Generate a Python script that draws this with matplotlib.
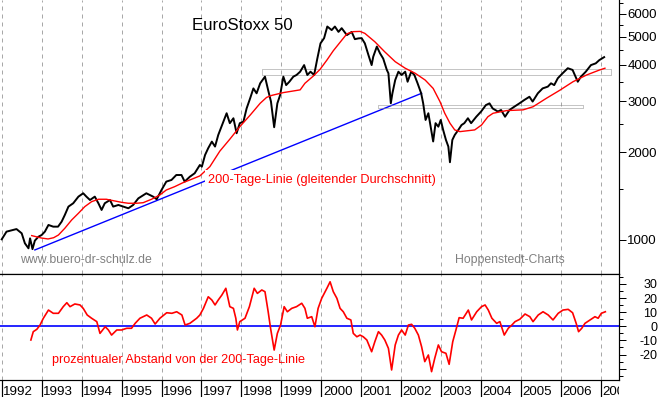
import matplotlib
matplotlib.use('Agg')
import matplotlib.pyplot as plt
import matplotlib.ticker as mticker
from matplotlib.patches import Rectangle

plt.rcParams['font.family'] = ['Liberation Sans', 'DejaVu Sans']

# ---------------- data (decimal years, index points) ----------------
price_t = [1992.00, 1992.12, 1992.37, 1992.50, 1992.58, 1992.67, 1992.71, 1992.77, 1992.83, 1992.92,
           1993.00, 1993.08, 1993.17, 1993.29, 1993.41, 1993.50, 1993.58, 1993.67, 1993.79, 1993.92,
           1994.04, 1994.12, 1994.21, 1994.33, 1994.42, 1994.50, 1994.58, 1994.71, 1994.79, 1994.92,
           1995.04, 1995.17, 1995.29, 1995.42, 1995.62, 1995.79, 1995.88, 1996.00, 1996.12, 1996.25,
           1996.37, 1996.50, 1996.58, 1996.71, 1996.83, 1996.96,
           1997.01, 1997.09, 1997.17, 1997.26, 1997.34, 1997.42, 1997.55, 1997.63, 1997.71, 1997.80,
           1997.88, 1997.96, 1998.05, 1998.13, 1998.22, 1998.30, 1998.38, 1998.47, 1998.59, 1998.67,
           1998.74, 1998.82, 1998.90, 1998.97, 1999.05, 1999.12, 1999.20, 1999.30, 1999.38, 1999.47,
           1999.57, 1999.65, 1999.73, 1999.82, 1999.90, 1999.98, 2000.07, 2000.15, 2000.26, 2000.34,
           2000.43, 2000.51, 2000.64, 2000.76, 2000.84, 2000.93, 2001.01, 2001.09, 2001.18, 2001.26,
           2001.30, 2001.39, 2001.47, 2001.55, 2001.64, 2001.68, 2001.74, 2001.78, 2001.85, 2001.93,
           2002.01, 2002.10, 2002.16, 2002.25, 2002.33, 2002.41, 2002.50, 2002.55, 2002.61, 2002.68,
           2002.75, 2002.80, 2002.86, 2002.93, 2002.99, 2003.05, 2003.12, 2003.18, 2003.22, 2003.28,
           2003.34, 2003.43, 2003.51,
           2003.58, 2003.67, 2003.75, 2003.88, 2004.00,
           2004.12, 2004.21, 2004.29, 2004.42, 2004.50, 2004.60, 2004.71, 2004.83, 2004.96, 2005.08,
           2005.21, 2005.29, 2005.42, 2005.54, 2005.67, 2005.75, 2005.83, 2005.92, 2006.04, 2006.17,
           2006.29, 2006.42, 2006.50, 2006.62, 2006.75, 2006.87, 2006.96, 2007.08]
price_v = [1005, 1068, 1090, 1054, 974, 936, 1013, 930, 995, 1026,
           1040, 1068, 1126, 1111, 1111, 1156, 1219, 1302, 1337, 1409,
           1447, 1409, 1372, 1409, 1337, 1268, 1337, 1372, 1302, 1319,
           1302, 1285, 1319, 1390, 1447, 1409, 1380, 1485, 1587, 1608,
           1672, 1672, 1587, 1650, 1695, 1810,
           1786, 1959, 2069, 2178, 2094, 2295, 2550, 2726, 2520, 2620,
           2327, 2520, 2550, 2831, 3072, 3318, 3192, 3455, 3642, 3270,
           2990, 2440, 2948, 3150, 3642, 3406, 3498, 3642, 3690, 3787,
           3991, 3690, 3787, 3690, 4200, 4740, 4940, 5415, 5265, 5415,
           5190, 5345, 5060, 5190, 4900, 4930, 4940, 4740, 4320, 3991,
           4265, 4620, 4380, 4200, 3841, 3740, 2950, 3192, 3545, 3787,
           3690, 3787, 3498, 3787, 3690, 3455, 3192, 2948, 2585, 2726,
           2389, 2180, 2520, 2451, 2585, 2389, 2207, 2094, 1850, 2207,
           2295, 2389, 2483,
           2520, 2620, 2520, 2652, 2763,
           2908, 2948, 2831, 2763, 2797, 2652, 2797, 2870, 2948, 3027,
           3106, 2990, 3192, 3318, 3365, 3455, 3406, 3596, 3740, 3893,
           3841, 3498, 3642, 3787, 3991, 4046, 4152, 4250]

ma_t = [1992.75, 1993.00, 1993.16, 1993.30, 1993.42, 1993.58, 1993.75, 1993.92, 1994.08, 1994.25,
        1994.42, 1994.62, 1994.79, 1995.00, 1995.17, 1995.37, 1995.54, 1995.75, 1995.96, 1996.12,
        1996.33, 1996.54, 1996.75, 1996.96, 1997.21, 1997.46, 1997.71, 1997.96, 1998.22, 1998.47,
        1998.63, 1998.76, 1999.05, 1999.47, 1999.59, 1999.80, 1999.97, 2000.14, 2000.30, 2000.47,
        2000.64, 2000.80, 2000.97, 2001.09, 2001.34, 2001.59, 2001.85, 2002.10, 2002.35, 2002.60,
        2002.80, 2002.97, 2003.09, 2003.22, 2003.34, 2003.47, 2003.84, 2004.01, 2004.17, 2004.30,
        2004.64, 2005.05, 2005.30, 2005.64, 2005.97, 2006.30, 2006.64, 2006.97, 2007.10]
ma_v = [1035, 1015, 1008, 1018, 1040, 1097, 1171, 1235, 1302, 1354,
        1380, 1380, 1365, 1347, 1337, 1337, 1343, 1380, 1428, 1485,
        1525, 1574, 1616, 1660, 1786, 2020, 2220, 2451, 2687, 2950,
        3090, 3140, 3210, 3280, 3455, 3660, 3860, 4152, 4470, 4780,
        5110, 5200, 5210, 5130, 4800, 4430, 4100, 3893, 3740, 3545,
        3318, 2990, 2726, 2520, 2389, 2357, 2389, 2483, 2652, 2726,
        2784, 2800, 2870, 3072, 3270, 3498, 3690, 3841, 3893]

osc_t = [1992.73, 1992.79, 1992.88, 1992.96, 1993.04, 1993.17, 1993.29, 1993.42, 1993.54, 1993.63,
         1993.71, 1993.83, 1993.96, 1994.04, 1994.14, 1994.25, 1994.38, 1994.46, 1994.59, 1994.67,
         1994.75, 1994.88, 1995.00, 1995.13, 1995.25, 1995.34, 1995.46, 1995.63, 1995.75, 1995.84,
         1995.96, 1996.13, 1996.26, 1996.38, 1996.51, 1996.59, 1996.71, 1996.88, 1996.96,
         1997.05, 1997.17, 1997.26, 1997.34, 1997.42, 1997.51, 1997.61, 1997.71, 1997.80, 1997.86,
         1997.90, 1997.96, 1998.09, 1998.20, 1998.32, 1998.40, 1998.51, 1998.59, 1998.67, 1998.73,
         1998.82, 1998.90, 1998.98, 1999.07, 1999.15, 1999.26, 1999.38, 1999.51, 1999.59, 1999.65,
         1999.76, 1999.84, 1999.92, 2000.01, 2000.14, 2000.22, 2000.30, 2000.39, 2000.47, 2000.55,
         2000.64, 2000.74, 2000.80, 2000.89, 2000.97, 2001.05, 2001.14, 2001.26, 2001.34, 2001.43,
         2001.51, 2001.59, 2001.68, 2001.76, 2001.85, 2001.93, 2002.01, 2002.10, 2002.18, 2002.26,
         2002.34, 2002.43, 2002.51, 2002.59, 2002.68, 2002.76, 2002.84, 2002.93, 2003.01, 2003.12,
         2003.20, 2003.29, 2003.37, 2003.45,
         2003.55, 2003.68, 2003.76, 2003.89, 2004.01, 2004.10, 2004.18, 2004.27, 2004.39, 2004.47,
         2004.58, 2004.68, 2004.77, 2004.85, 2004.97, 2005.10, 2005.22, 2005.30, 2005.43, 2005.55,
         2005.68, 2005.80, 2005.93, 2006.05, 2006.18, 2006.29, 2006.38, 2006.44, 2006.52, 2006.60,
         2006.73, 2006.85, 2006.93, 2007.01, 2007.11]
osc_v = [-9.7, -3.8, -2.1, 0.9, 5.6, 11.5, 9.2, 9.2, 13.9, 16.7,
         13.9, 15.8, 15.1, 12.7, 8.0, 5.7, 3.3, -5.0, -0.3, -2.6,
         -6.2, -2.6, -2.6, -1.4, -1.4, 2.1, 5.7, 8.0, 5.7, 1.6,
         5.7, 9.6, 9.2, 10.3, 8.0, 0.9, 2.1, 5.7, 8.0,
         12.7, 20.9, 18.6, 15.1, 18.6, 22.1, 26.9, 13.9, 12.7, 5.7,
         -2.6, 3.3, 5.7, 13.9, 26.9, 23.3, 25.7, 24.5, 10.3, -1.4,
         -16.8, -5.0, 0.9, 13.9, 10.3, 12.7, 13.9, 16.3, 12.7, 5.7,
         6.8, -0.3, 12.7, 19.8, 26.9, 31.5, 24.5, 19.8, 12.7, 10.3,
         5.7, 4.5, -5.0, -7.4, -6.2, -7.4, -9.7, -18.0, -10.9, -3.8,
         -6.2, -9.7, -15.6, -30.9, -13.2, -6.2, -2.6, -6.2, 0.9, 1.4,
         -1.4, -6.2, -14.4, -25.0, -20.3, -32.1, -22.6, -13.2, -18.0, -19.1,
         -26.9, -10.9, -2.6, 6.1,
         5.7, 11.5, 4.5, 10.3, 13.9, 15.1, 11.5, 5.7, 2.1, 3.3,
         -6.2, -1.4, 0.9, 3.3, 5.0, 8.7, 6.8, 3.3, 8.0, 10.3,
         8.0, 4.5, 9.2, 11.5, 12.0, 9.6, 2.1, -3.8, -1.4, 2.1,
         4.5, 6.8, 5.7, 9.2, 10.3]

trend_t = [1992.83, 2002.51]
trend_v = [924, 3192]
box1_t = [1998.51, 2007.26]
box1_v = [3680, 3865]
box2_t = [2001.41, 2006.54]
box2_v = [2850, 2905]

years = list(range(1992, 2008))
price_ticks = [1000, 2000, 3000, 4000, 5000, 6000]
price_minor = [1500, 2500, 3500, 4500, 5500, 6500]
osc_ticks = [-30, -20, -10, 0, 10, 20, 30]
osc_labels = ['', '-20', '-10', '0', '10', '20', '30']
osc_minor = [-35, -25, -15, -5, 5, 15, 25, 35]

# ---------------- layout ----------------
W, H = 660, 397
fig = plt.figure(figsize=(W / 100, H / 100), dpi=100)
fig.patch.set_facecolor('white')


def rect(x0, y0, x1, y1):
    return [x0 / W, 1 - y1 / H, (x1 - x0) / W, (y1 - y0) / H]


ax1 = fig.add_axes(rect(0, 0, 619, 274.3))
ax2 = fig.add_axes(rect(0, 274.3, 619, 380))
ax3 = fig.add_axes(rect(0, 380, 619, 397))
xlim = (1991.957, 2007.452)
px = 0.72  # one pixel in points

for ax in (ax1, ax2, ax3):
    ax.set_xlim(*xlim)
    ax.set_xticks([])
    ax.spines['left'].set_visible(False)
    for s in ('right', 'bottom', 'top'):
        ax.spines[s].set_linewidth(px * 1.2)
ax1.spines['top'].set_visible(False)

for ax in (ax1, ax2):
    for y in years:
        ax.axvline(y, color='#a8a8a8', lw=px, dashes=(4, 4), zorder=0)

# ---------------- top panel ----------------
ax1.set_yscale('log')
ax1.set_ylim(762, 6680)
ax1.plot(trend_t, trend_v, color='#0000ff', lw=1.0, zorder=2)
ax1.add_patch(Rectangle((box1_t[0], box1_v[0]), box1_t[1] - box1_t[0], box1_v[1] - box1_v[0],
                        fill=False, ec='#8c8c8c', lw=px, ls=(0, (1, 1)), zorder=2))
ax1.add_patch(Rectangle((box2_t[0], box2_v[0]), box2_t[1] - box2_t[0], box2_v[1] - box2_v[0],
                        fill=False, ec='#8c8c8c', lw=px, ls=(0, (1, 1)), zorder=2))
ax1.plot(price_t, price_v, color='black', lw=1.4, zorder=3)
ax1.plot(ma_t, ma_v, color='#ff0000', lw=1.0, zorder=4)

ax1.yaxis.tick_right()
ax1.set_yticks(price_ticks)
ax1.set_yticklabels([str(v) for v in price_ticks])
ax1.set_yticks(price_minor, minor=True)
ax1.yaxis.set_minor_formatter(mticker.NullFormatter())
ax1.tick_params(axis='y', which='major', length=5, width=px, pad=22.4, labelsize=9.5)
ax1.tick_params(axis='y', which='minor', length=3, width=px)
ax1.tick_params(axis='x', which='both', length=0)
for t in ax1.yaxis.get_major_ticks():
    t.label2.set_horizontalalignment('right')

ax1.text(192 / 619, 1 - 30 / 274.3, 'EuroStoxx 50', transform=ax1.transAxes,
         fontsize=12.1, color='black', ha='left', va='baseline', zorder=6)
ax1.text(208 / 619, 1 - 182.7 / 274.3, '200-Tage-Linie (gleitender Durchschnitt)',
         transform=ax1.transAxes, fontsize=9.2, color='#ff0000', ha='left', va='baseline',
         zorder=6, bbox=dict(facecolor='white', edgecolor='none', pad=2.5))
ax1.text(20 / 619, 1 - 263 / 274.3, 'www.buero-dr-schulz.de', transform=ax1.transAxes,
         fontsize=8.8, color='#808080', ha='left', va='baseline', zorder=6)
ax1.text(455 / 619, 1 - 262.5 / 274.3, 'Hoppenstedt-Charts', transform=ax1.transAxes,
         fontsize=8.8, color='#808080', ha='left', va='baseline', zorder=6)

# ---------------- bottom panel ----------------
ax2.set_ylim(-38.0, 36.8)
ax2.axhline(0, color='#0000ff', lw=1.2, zorder=2)
ax2.plot(osc_t, osc_v, color='#ff0000', lw=1.2, zorder=3)
ax2.yaxis.tick_right()
ax2.set_yticks(osc_ticks)
ax2.set_yticklabels(osc_labels)
ax2.set_yticks(osc_minor, minor=True)
ax2.tick_params(axis='y', which='major', length=5, width=px, pad=22.4, labelsize=9)
ax2.tick_params(axis='y', which='minor', length=3, width=px)
ax2.tick_params(axis='x', which='both', length=0)
for t in ax2.yaxis.get_major_ticks():
    t.label2.set_horizontalalignment('right')
ax2.text(52.3 / 619, (380 - 363.3) / 105.7, 'prozentualer Abstand von der 200-Tage-Linie',
         transform=ax2.transAxes, fontsize=9.1, color='#ff0000', ha='left', va='baseline')

# ---------------- year strip ----------------
ax3.set_ylim(0, 1)
ax3.set_yticks([])
for s in ('bottom', 'right', 'top'):
    ax3.spines[s].set_visible(False)
ax3.patch.set_alpha(0)
for y in years:
    ax3.axvline(y, color='black', lw=px * 1.2)
    ax3.text(y + 0.04, 2 / 17, str(y), fontsize=9.6, color='black', ha='left',
             va='baseline', clip_on=True)

fig.savefig('out.png', dpi=100)
